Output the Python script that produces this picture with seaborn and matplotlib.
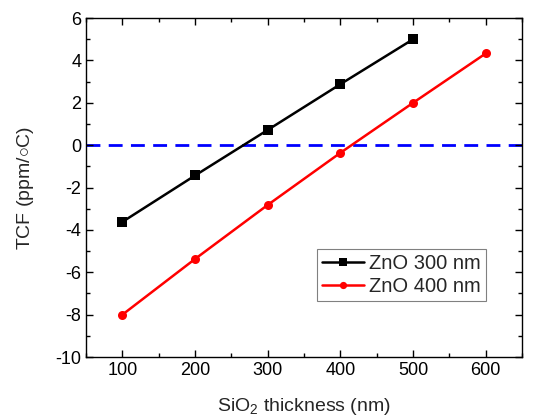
import numpy as np
import pandas as pd
import seaborn as sns
import matplotlib.pyplot as plt
from matplotlib.ticker import MultipleLocator

# TCF vs SiO2 thickness for two ZnO thicknesses
sio2_300 = [100, 200, 300, 400, 500]
tcf_300 = [-3.62, -1.43, 0.72, 2.88, 5.0]

sio2_400 = [100, 200, 300, 400, 500, 600]
tcf_400 = [-8.0, -5.37, -2.82, -0.36, 2.0, 4.33]

labels = ["ZnO 300 nm", "ZnO 400 nm"]

df = pd.concat([
    pd.DataFrame({"x": sio2_300, "y": tcf_300, "s": labels[0]}),
    pd.DataFrame({"x": sio2_400, "y": tcf_400, "s": labels[1]}),
])

sns.set_style("ticks")
plt.rcParams['font.family'] = ['Liberation Sans', 'DejaVu Sans']
plt.rcParams['mathtext.fontset'] = 'custom'
plt.rcParams['mathtext.rm'] = 'Liberation Sans'
plt.rcParams['axes.unicode_minus'] = False

fig, ax = plt.subplots(figsize=(5.45, 4.2), dpi=100)
fig.subplots_adjust(left=0.158, right=0.958, top=0.957, bottom=0.15)

sns.lineplot(data=df, x="x", y="y", hue="s", style="s",
             palette=["black", "red"], markers=["s", "o"], dashes=False,
             markersize=6.5, linewidth=1.8, markeredgewidth=0, ax=ax)

ax.axhline(0, color="#0000ff", linestyle=(0, (5, 3)), linewidth=2, zorder=0)

ax.set_xlim(50, 650)
ax.set_ylim(-10, 6)
ax.xaxis.set_major_locator(MultipleLocator(100))
ax.xaxis.set_minor_locator(MultipleLocator(50))
ax.yaxis.set_major_locator(MultipleLocator(2))
ax.yaxis.set_minor_locator(MultipleLocator(1))
ax.tick_params(which="both", direction="in", top=True, right=True,
               labelsize=13, width=1, colors="black")
ax.tick_params(which="major", length=5)
ax.tick_params(which="minor", length=3)
for sp in ax.spines.values():
    sp.set_linewidth(1)
    sp.set_color("black")

ax.set_xlabel("SiO$_2$ thickness (nm)", fontsize=14, labelpad=12)
ax.set_ylabel("TCF (ppm/$\\circ$C)", fontsize=14, labelpad=14)

leg = ax.legend(loc="lower right", bbox_to_anchor=(0.917, 0.165), borderaxespad=0,
                fontsize=14.5, fancybox=False, edgecolor="gray", framealpha=1,
                handlelength=2.1, borderpad=0.25, labelspacing=0.2,
                handletextpad=0.25, markerscale=0.8, title=None)
leg.get_frame().set_linewidth(0.8)

plt.savefig("out.png")
